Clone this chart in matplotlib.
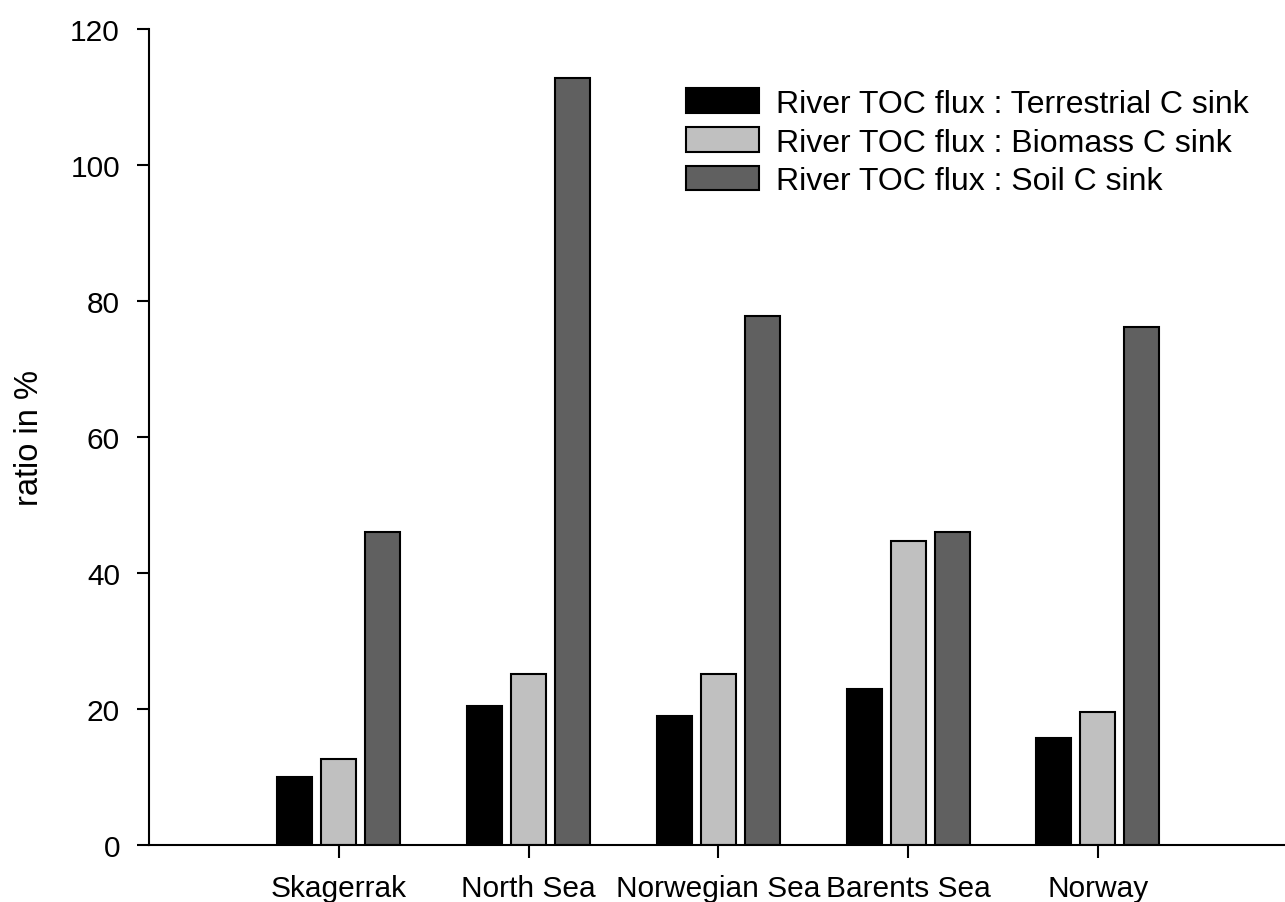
import numpy as np
import matplotlib
matplotlib.use("Agg")
import matplotlib.pyplot as plt

plt.rcParams["font.family"] = ["Liberation Sans", "DejaVu Sans"]

regions = ["Skagerrak", "North Sea", "Norwegian Sea", "Barents Sea", "Norway"]
terrestrial = [10.0, 20.5, 19.0, 22.9, 15.8]
biomass = [12.6, 25.2, 25.2, 44.7, 19.6]
soil = [46.0, 112.7, 77.8, 46.0, 76.1]
labels = ["River TOC flux : Terrestrial C sink",
          "River TOC flux : Biomass C sink",
          "River TOC flux : Soil C sink"]

fig = plt.figure(figsize=(12.85, 9.03), dpi=100)
ax = fig.add_axes([0.116, 0.063, 0.886, 0.904])

x = np.arange(1, len(regions) + 1)
w = 0.184
step = 0.232
ax.bar(x - step, terrestrial, w, color="black", edgecolor="black", linewidth=1.5, label=labels[0])
ax.bar(x, biomass, w, color="#c0c0c0", edgecolor="black", linewidth=1.5, label=labels[1])
ax.bar(x + step, soil, w, color="#606060", edgecolor="black", linewidth=1.5, label=labels[2])

ax.set_xlim(0, 6)
ax.set_ylim(0, 120)
ax.set_yticks(range(0, 121, 20))
ax.set_xticks(x)
ax.set_xticklabels(regions, fontsize=21.5)
ax.tick_params(axis="y", labelsize=21.5, length=9, width=1.5, pad=12)
ax.tick_params(axis="x", length=9, width=1.5, pad=12)
ax.spines["top"].set_visible(False)
ax.spines["right"].set_visible(False)
ax.spines["left"].set_linewidth(1.5)
ax.spines["bottom"].set_linewidth(1.5)
ax.set_ylabel("ratio in %", fontsize=23.5, labelpad=18)

ax.legend(loc="upper left", bbox_to_anchor=(0.4716, 0.927), frameon=False,
          fontsize=23, handlelength=2.3, handleheight=0.81,
          handletextpad=0.52, labelspacing=0.26, borderpad=0, borderaxespad=0)

fig.savefig("out.png", dpi=100)
